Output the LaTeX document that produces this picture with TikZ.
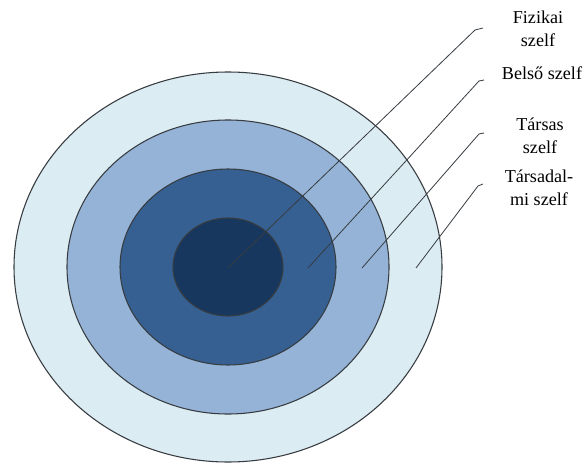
\documentclass[tikz,border=0pt]{standalone}
\usepackage{fontspec}
\setmainfont{Liberation Serif}

\definecolor{ringA}{RGB}{23,55,94}
\definecolor{ringB}{RGB}{54,96,146}
\definecolor{ringC}{RGB}{149,179,215}
\definecolor{ringD}{RGB}{219,236,242}
\definecolor{edge}{RGB}{55,60,65}

\tikzset{
  ring/.style={draw=edge,line width=0.8pt},
  leader/.style={draw=edge,line width=0.6pt},
  lbl/.style={align=center,inner sep=0pt,font=\fontsize{13.6}{17}\selectfont}
}

\begin{document}
\begin{tikzpicture}[x=0.75pt,y=-0.75pt]
\useasboundingbox (0,0) rectangle (584,463);
\fill[white] (0,0) rectangle (584,463);
\draw[ring,fill=ringD] (228,267) ellipse [x radius=214,y radius=195];
\draw[ring,fill=ringC] (228,267) ellipse [x radius=161,y radius=147];
\draw[ring,fill=ringB] (228,267) ellipse [x radius=108,y radius=98];
\draw[ring,fill=ringA] (228,267) ellipse [x radius=55,y radius=49];
\coordinate (fiz) at (228,268);
\coordinate (bel) at (308,268);
\coordinate (tas) at (362,268);
\coordinate (tad) at (416,268);
\coordinate (fizb) at (475,30);
\coordinate (belb) at (479,81);
\coordinate (tasb) at (479,134);
\coordinate (tadb) at (478,186);
\node[lbl] (fizl) at (538,29) {Fizikai\\szelf};
\node[lbl] (bell) at (542,73) {Belső szelf};
\node[lbl] (tasl) at (540,136) {Társas\\szelf};
\node[lbl] (tadl) at (539,188) {Társadal-\\mi szelf};
\draw[leader] (fiz) -- (fizb) -- ++(8,-2);
\draw[leader] (bel) -- (belb) -- ++(5,-1);
\draw[leader] (tas) -- (tasb) -- ++(5,-1);
\draw[leader] (tad) -- (tadb) -- ++(5,-2);
\end{tikzpicture}
\end{document}
